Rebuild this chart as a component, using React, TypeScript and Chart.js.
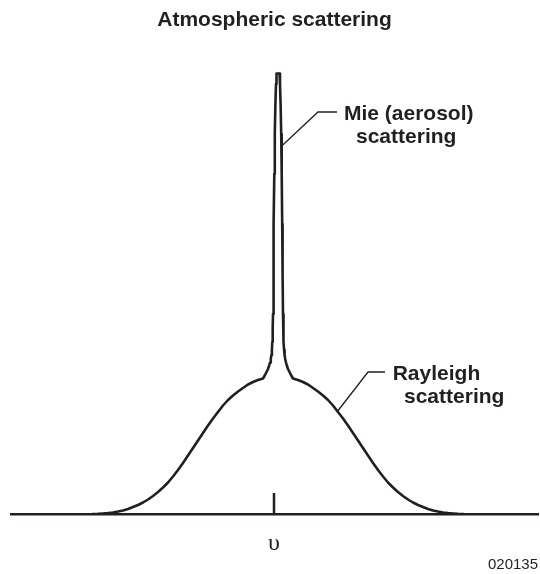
import React, { useEffect, useRef } from 'react';
import { Chart, registerables } from 'chart.js';

Chart.register(...registerables);

// ---- Text ----
const TITLE = 'Atmospheric scattering';
const AXIS_TICK_VALUES = [0];
const AXIS_TICK_LABELS = ['υ'];
const FIGURE_ID = '020135';
const MIE_LABEL = ['Mie (aerosol)', 'scattering'];
const RAYLEIGH_LABEL = ['Rayleigh', 'scattering'];

// ---- Data: frequency offset from the marked line, and scattered intensity ----
// Rayleigh wing (left), Mie spike, Rayleigh wing (right)
const leftWingOffset = [
  -182, -176, -171, -166, -161, -156, -151, -146, -141, -136, -131, -126, -121, -116, -111, -106, -101,
  -96, -91, -86, -81, -76, -71, -66, -61, -56, -51, -46, -41, -36, -31, -26, -21, -16, -11,
];
const leftWingIntensity = [
  0, 0.2, 0.5, 0.9, 1.5, 2.4, 3.5, 5, 7, 9, 11.5, 14.5, 18, 22, 26.5, 31.5, 37.5,
  44, 51, 58.5, 66, 73.5, 81, 88.5, 95.5, 102, 108.5, 114, 118.5, 122.5, 126, 129.5, 132, 134, 135.5,
];
const spikeOffset = [
  -9, -7.5, -6, -5, -4, -3.2, -2.6, -2.1, -1.7, -1.3, -1, -0.6, -0.2, 0.3, 0.8, 1.4, 2, 2.5,
  5.5, 6, 6.6, 7.2, 7.7, 8.2, 8.6, 9, 9.3, 9.7, 10.1, 10.6, 11.2, 12, 13, 14, 15.5, 17,
];
const spikeIntensity = [
  139, 142, 145, 148, 151.5, 155, 159, 164, 172, 185, 200, 240, 290, 340, 380, 410, 430, 440.5,
  440.5, 430, 410, 380, 340, 290, 240, 200, 185, 172, 164, 159, 155, 151.5, 148, 145, 142, 139,
];
const rightWingOffset = [
  19, 24, 29, 34, 39, 44, 49, 54, 59, 64, 69, 74, 79, 84, 89, 94, 99, 104,
  109, 114, 119, 124, 129, 134, 139, 144, 149, 154, 159, 164, 169, 174, 179, 184, 190,
];
const rightWingIntensity = [
  135.5, 134, 132, 129.5, 126, 122.5, 118.5, 114, 108.5, 102, 95.5, 88.5, 81, 73.5, 66, 58.5, 51, 44,
  37.5, 31.5, 26.5, 22, 18, 14.5, 11.5, 9, 7, 5, 3.5, 2.4, 1.5, 0.9, 0.5, 0.2, 0,
];

// Leader lines (data coordinates)
const mieLeaderX = [7.7, 44, 63];
const mieLeaderY = [368, 402, 402];
const rayleighLeaderX = [63, 94, 111];
const rayleighLeaderY = [102, 142, 142];
// Label anchors (left edge, baseline) in data coordinates
const mieLabelX = [70, 82];
const mieLabelY = [394, 371];
const rayleighLabelX = [118.7, 130];
const rayleighLabelY = [134, 111];

// ---- Styles ----
const INK = '#231f20';
const SANS = '"Liberation Sans", Arial, Helvetica, sans-serif';
const SERIF = '"Liberation Serif", "Times New Roman", serif';
const X_MIN = -263;
const X_MAX = 264;
const Y_MAX = 465;
const TICK_MARK_HEIGHT = 21;

const annotationPlugin = {
  id: 'figureAnnotations',
  afterDraw(chart: any) {
    const { ctx } = chart;
    const xs = chart.scales.x;
    const ys = chart.scales.y;
    ctx.save();
    ctx.strokeStyle = INK;
    ctx.fillStyle = INK;
    ctx.lineCap = 'butt';

    // tick mark rising from the axis
    ctx.lineWidth = 2.5;
    AXIS_TICK_VALUES.forEach((v) => {
      const px = xs.getPixelForValue(v);
      ctx.beginPath();
      ctx.moveTo(px, ys.getPixelForValue(0));
      ctx.lineTo(px, ys.getPixelForValue(TICK_MARK_HEIGHT));
      ctx.stroke();
    });

    // leader lines
    ctx.lineWidth = 1.3;
    const leader = (lx: number[], ly: number[]) => {
      ctx.beginPath();
      lx.forEach((vx, i) => {
        const px = xs.getPixelForValue(vx);
        const py = ys.getPixelForValue(ly[i]);
        if (i === 0) ctx.moveTo(px, py);
        else ctx.lineTo(px, py);
      });
      ctx.stroke();
    };
    leader(mieLeaderX, mieLeaderY);
    leader(rayleighLeaderX, rayleighLeaderY);

    // labels
    ctx.font = `bold 21px ${SANS}`;
    ctx.textAlign = 'left';
    ctx.textBaseline = 'alphabetic';
    MIE_LABEL.forEach((t, i) => {
      ctx.fillText(t, xs.getPixelForValue(mieLabelX[i]), ys.getPixelForValue(mieLabelY[i]));
    });
    RAYLEIGH_LABEL.forEach((t, i) => {
      ctx.fillText(t, xs.getPixelForValue(rayleighLabelX[i]), ys.getPixelForValue(rayleighLabelY[i]));
    });

    // figure id
    ctx.font = `15px ${SANS}`;
    ctx.textAlign = 'right';
    ctx.fillText(FIGURE_ID, chart.width - 2, chart.height - 5);
    ctx.restore();
  },
};

export default function App() {
  const canvasRef = useRef<HTMLCanvasElement | null>(null);

  useEffect(() => {
    if (!canvasRef.current) return;
    const offsets = [...leftWingOffset, ...spikeOffset, ...rightWingOffset];
    const values = [...leftWingIntensity, ...spikeIntensity, ...rightWingIntensity];
    const points = offsets.map((x, i) => ({ x, y: values[i] }));
    const chart = new Chart(canvasRef.current, {
      type: 'line',
      data: {
        datasets: [
          {
            data: points,
            borderColor: INK,
            borderWidth: 2.6,
            pointRadius: 0,
            fill: false,
            tension: 0,
            borderJoinStyle: 'round',
          },
        ],
      },
      options: {
        responsive: false,
        animation: false,
        events: [],
        layout: { padding: { left: 11, right: 2, top: 0, bottom: 0 } },
        plugins: {
          legend: { display: false },
          tooltip: { enabled: false },
          title: {
            display: true,
            text: TITLE,
            color: INK,
            font: { family: SANS, size: 21, weight: 'bold', lineHeight: 1.2 },
            padding: { top: 8, bottom: 15.8 },
          },
        },
        scales: {
          x: {
            type: 'linear',
            min: X_MIN,
            max: X_MAX,
            grid: { display: false, drawTicks: false },
            border: { display: true, color: INK, width: 2.5 },
            afterBuildTicks: (axis: any) => {
              axis.ticks = AXIS_TICK_VALUES.map((value) => ({ value }));
            },
            afterFit: (axis: any) => {
              axis.height = 60;
            },
            ticks: {
              color: INK,
              padding: 15,
              maxRotation: 0,
              font: { family: SERIF, size: 24 },
              callback: (value: any) => {
                const idx = AXIS_TICK_VALUES.indexOf(Number(value));
                return idx >= 0 ? AXIS_TICK_LABELS[idx] : '';
              },
            },
          },
          y: {
            type: 'linear',
            display: false,
            min: 0,
            max: Y_MAX,
          },
        },
      },
      plugins: [annotationPlugin],
    });
    return () => chart.destroy();
  }, []);

  return (
    <div style={{ position: 'absolute', left: 0, top: 0, width: 540, height: 574, background: '#fff' }}>
      <canvas ref={canvasRef} width={540} height={574} style={{ display: 'block' }} />
    </div>
  );
}
